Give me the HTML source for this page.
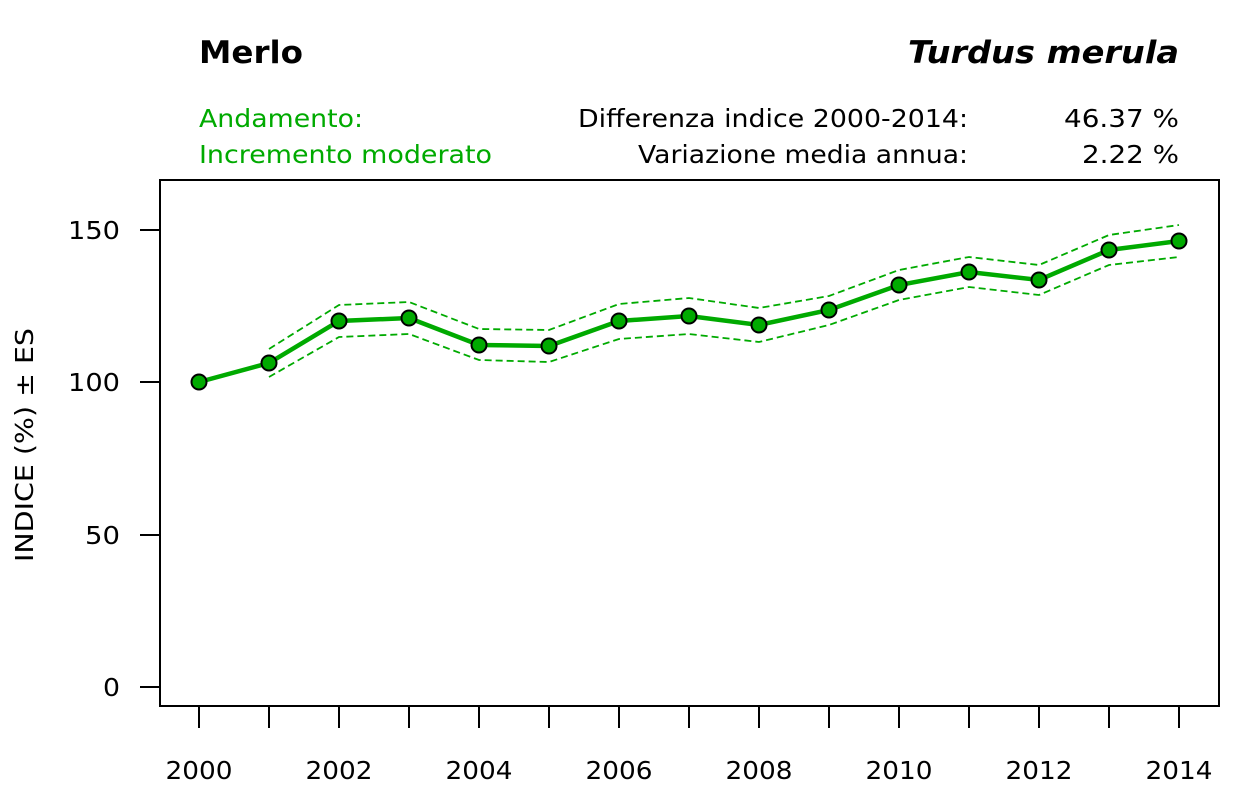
<!DOCTYPE html>
<html><head><meta charset="utf-8"><style>html,body{margin:0;padding:0;background:#fff}</style></head>
<body>
<svg width="1259" height="787" xmlns="http://www.w3.org/2000/svg" font-family="DejaVu Sans, Liberation Sans, sans-serif">
<rect width="1259" height="787" fill="#fff"/>
<text x="199" y="63" font-size="31" font-weight="bold" textLength="104" lengthAdjust="spacingAndGlyphs">Merlo</text>
<text x="1179" y="63" font-size="31" font-weight="bold" font-style="italic" text-anchor="end" textLength="271" lengthAdjust="spacingAndGlyphs">Turdus merula</text>
<g font-size="25" lengthAdjust="spacingAndGlyphs">
<text x="199" y="127" fill="#00aa00" textLength="164" lengthAdjust="spacingAndGlyphs">Andamento:</text>
<text x="199" y="163" fill="#00aa00" textLength="293" lengthAdjust="spacingAndGlyphs">Incremento moderato</text>
<text x="968" y="127" text-anchor="end" textLength="390" lengthAdjust="spacingAndGlyphs">Differenza indice 2000-2014:</text>
<text x="968" y="163" text-anchor="end" textLength="330" lengthAdjust="spacingAndGlyphs">Variazione media annua:</text>
<text x="1179" y="127" text-anchor="end" textLength="115" lengthAdjust="spacingAndGlyphs">46.37 %</text>
<text x="1179" y="163" text-anchor="end" textLength="97" lengthAdjust="spacingAndGlyphs">2.22 %</text>
</g>
<rect x="160" y="180" width="1059" height="526" fill="none" stroke="#000" stroke-width="2"/>
<g stroke="#000" stroke-width="2">
<line x1="140" y1="687" x2="160" y2="687"/><line x1="140" y1="535" x2="160" y2="535"/>
<line x1="140" y1="382" x2="160" y2="382"/><line x1="140" y1="230" x2="160" y2="230"/>
</g>
<g font-size="25" text-anchor="end">
<text x="120" y="696" textLength="17" lengthAdjust="spacingAndGlyphs">0</text><text x="120" y="544" textLength="35" lengthAdjust="spacingAndGlyphs">50</text><text x="120" y="391" textLength="52" lengthAdjust="spacingAndGlyphs">100</text><text x="120" y="239" textLength="52" lengthAdjust="spacingAndGlyphs">150</text>
</g>
<text transform="translate(33,445) rotate(-90)" font-size="25" text-anchor="middle" textLength="234" lengthAdjust="spacingAndGlyphs">INDICE (%) ± ES</text>
<g stroke="#000" stroke-width="2">
<line x1="199" y1="706" x2="199" y2="728"/><line x1="269" y1="706" x2="269" y2="728"/><line x1="339" y1="706" x2="339" y2="728"/><line x1="409" y1="706" x2="409" y2="728"/><line x1="479" y1="706" x2="479" y2="728"/><line x1="549" y1="706" x2="549" y2="728"/><line x1="619" y1="706" x2="619" y2="728"/><line x1="689" y1="706" x2="689" y2="728"/><line x1="759" y1="706" x2="759" y2="728"/><line x1="829" y1="706" x2="829" y2="728"/><line x1="899" y1="706" x2="899" y2="728"/><line x1="969" y1="706" x2="969" y2="728"/><line x1="1039" y1="706" x2="1039" y2="728"/><line x1="1109" y1="706" x2="1109" y2="728"/><line x1="1179" y1="706" x2="1179" y2="728"/>
</g>
<g font-size="25" text-anchor="middle">
<text x="199" y="779" textLength="67" lengthAdjust="spacingAndGlyphs">2000</text><text x="339" y="779" textLength="67" lengthAdjust="spacingAndGlyphs">2002</text><text x="479" y="779" textLength="67" lengthAdjust="spacingAndGlyphs">2004</text><text x="619" y="779" textLength="67" lengthAdjust="spacingAndGlyphs">2006</text><text x="759" y="779" textLength="67" lengthAdjust="spacingAndGlyphs">2008</text><text x="899" y="779" textLength="67" lengthAdjust="spacingAndGlyphs">2010</text><text x="1039" y="779" textLength="67" lengthAdjust="spacingAndGlyphs">2012</text><text x="1179" y="779" textLength="67" lengthAdjust="spacingAndGlyphs">2014</text>
</g>
<g fill="none" stroke="#00aa00" stroke-width="1.8" stroke-dasharray="7,4">
<polyline points="269,349 339,305 409,302 479,329 549,330 619,304 689,298 759,308 829,296 899,270 969,257 1039,265 1109,235 1179,225"/>
<polyline points="269,377 339,337 409,334 479,360 549,362 619,339 689,334 759,342 829,325 899,300 969,287 1039,295 1109,265 1179,257"/>
</g>
<polyline fill="none" stroke="#00aa00" stroke-width="4.5" points="199,382 269,363 339,321 409,318 479,345 549,346 619,321 689,316 759,325 829,310 899,285 969,272 1039,280 1109,250 1179,241"/>
<g fill="#00aa00" stroke="#000" stroke-width="2">
<circle cx="199" cy="382" r="7.5"/><circle cx="269" cy="363" r="7.5"/><circle cx="339" cy="321" r="7.5"/><circle cx="409" cy="318" r="7.5"/><circle cx="479" cy="345" r="7.5"/><circle cx="549" cy="346" r="7.5"/><circle cx="619" cy="321" r="7.5"/><circle cx="689" cy="316" r="7.5"/><circle cx="759" cy="325" r="7.5"/><circle cx="829" cy="310" r="7.5"/><circle cx="899" cy="285" r="7.5"/><circle cx="969" cy="272" r="7.5"/><circle cx="1039" cy="280" r="7.5"/><circle cx="1109" cy="250" r="7.5"/><circle cx="1179" cy="241" r="7.5"/>
</g>
</svg>
</body></html>
